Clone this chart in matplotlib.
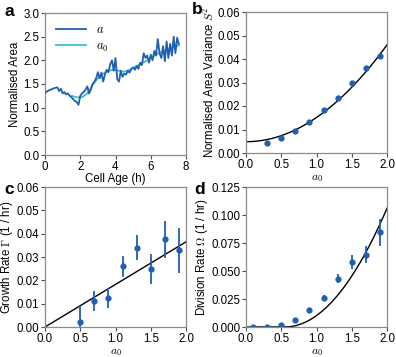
import numpy as np
import matplotlib
matplotlib.use("Agg")
import matplotlib.pyplot as plt

plt.rcParams['font.family'] = ['Liberation Sans', 'DejaVu Sans']
plt.rcParams['mathtext.fontset'] = 'cm'
plt.rcParams['font.size'] = 8.3

# ---- panel a data ----
age_a = [0.0, 0.1, 0.2, 0.3, 0.4, 0.5, 0.6, 0.7, 0.8, 0.9, 1.0, 1.1, 1.2, 1.3, 1.4, 1.5,
         1.6, 1.7, 1.8, 1.9, 2.0, 2.1, 2.2, 2.3, 2.4, 2.5, 2.6, 2.7, 2.8, 2.9, 3.0, 3.1,
         3.2, 3.3, 3.4, 3.5, 3.6, 3.7, 3.8, 3.9, 4.0, 4.1, 4.2, 4.3, 4.4, 4.5, 4.6, 4.7,
         4.8, 4.9, 5.0, 5.1, 5.2, 5.3, 5.4, 5.5, 5.6, 5.7, 5.8, 5.9, 6.0, 6.1, 6.2, 6.3,
         6.4, 6.5, 6.6, 6.7, 6.8, 6.9, 7.0, 7.1, 7.2, 7.3, 7.4, 7.5, 7.6]
area_a = [1.32, 1.34, 1.36, 1.38, 1.39, 1.41, 1.42, 1.43, 1.35, 1.40, 1.30, 1.33, 1.28, 1.30,
          1.25, 1.22, 1.18, 1.14, 1.12, 1.06, 1.25, 1.30, 1.33, 1.38, 1.45, 1.30, 1.38, 1.50,
          1.55, 1.62, 1.75, 1.62, 1.74, 1.55, 1.70, 1.80, 1.75, 1.92, 2.00, 1.78, 2.05, 1.60,
          1.55, 1.78, 1.65, 1.72, 1.70, 1.78, 1.74, 1.82, 1.85, 1.80, 1.88, 1.82, 1.95, 1.90,
          2.15, 2.05, 2.10, 1.95, 2.12, 2.00, 2.20, 2.10, 2.45, 2.15, 2.05, 2.30, 1.98, 2.40,
          2.05, 2.35, 2.10, 2.50, 2.15, 2.48, 2.33]
age_a0 = [1.5, 1.8, 2.1, 2.4, 2.7, 3.0, 3.3, 3.6, 3.9, 4.2, 4.5, 4.8, 5.1, 5.4, 5.7, 6.0,
          6.3, 6.6, 6.9, 7.2, 7.5]
area_a0 = [1.25, 1.22, 1.22, 1.30, 1.48, 1.62, 1.72, 1.78, 1.80, 1.78, 1.76, 1.80, 1.86,
           1.92, 1.98, 2.05, 2.12, 2.18, 2.22, 2.26, 2.30]

# ---- panel b data ----
a0_b = [0.3, 0.5, 0.7, 0.9, 1.1, 1.3, 1.5, 1.7, 1.9]
var_b = [0.0042, 0.0065, 0.0093, 0.0133, 0.0183, 0.0235, 0.0298, 0.0360, 0.0413]
fit_b_c0 = 0.0048
fit_b_c2 = 0.0103

# ---- panel c data ----
a0_c = [0.5, 0.7, 0.9, 1.1, 1.3, 1.5, 1.7, 1.9]
growth_c = [0.0020, 0.0112, 0.0123, 0.0260, 0.0340, 0.0250, 0.0376, 0.0328]
growth_err = [0.0070, 0.0044, 0.0043, 0.0045, 0.0053, 0.0065, 0.0080, 0.0098]
fit_c_slope = 0.01825

# ---- panel d data ----
a0_d = [0.1, 0.3, 0.5, 0.7, 0.9, 1.1, 1.3, 1.5, 1.7, 1.9]
div_d = [0.0, 0.0, 0.0015, 0.0062, 0.0148, 0.0258, 0.0430, 0.0580, 0.0645, 0.0845]
div_err = [0.0003, 0.0003, 0.0012, 0.0010, 0.0010, 0.0025, 0.0040, 0.0065, 0.0075, 0.0120]
fit_d_thresh = 0.55
fit_d_coef = 0.0504

BLUE = '#2160b0'
CYAN = '#3cc0d0'
W, H = 396, 357
fig = plt.figure(figsize=(W / 100, H / 100), dpi=100)

def add_ax(l, r, t, b):
    return fig.add_axes([l / W, 1 - b / H, (r - l) / W, (b - t) / H])

axa = add_ax(45, 186, 13, 155)
axb = add_ax(246, 387, 12, 153)
axc = add_ax(45, 186, 187, 327)
axd = add_ax(246, 387, 187, 327)

for ax in (axa, axb, axc, axd):
    for s in ax.spines.values():
        s.set_color('0.55')
        s.set_linewidth(0.9)
    ax.tick_params(direction='out', length=3, width=0.8, color='0.3', pad=1.0,
                   top=False, right=False, labelsize=8.3)

# a
axa.plot(age_a0, area_a0, color=CYAN, lw=1.3, label='$a_0$', zorder=2)
axa.plot(age_a, area_a, color=BLUE, lw=1.3, label='$a$', zorder=3)
h, l = axa.get_legend_handles_labels()
axa.legend(h[::-1], l[::-1], loc='upper left', frameon=False, fontsize=9,
           handlelength=2.4, borderaxespad=0.5, labelspacing=0.35)
axa.set_xlim(0, 8)
axa.set_ylim(0, 3)
axa.set_xticks([0, 2, 4, 6, 8])
axa.set_yticks([0, 0.5, 1.0, 1.5, 2.0, 2.5, 3.0])
axa.set_xlabel('Cell Age (h)', labelpad=0)
axa.set_ylabel('Normalised Area', labelpad=1.5)

# b
xb = np.linspace(0, 2, 200)
axb.plot(xb, fit_b_c0 + fit_b_c2 * xb ** 2, color='black', lw=1.0)
axb.plot(a0_b, var_b, 'o', color=BLUE, ms=3.5)
axb.set_xlim(0, 2)
axb.set_ylim(0, 0.06)
axb.set_xticks([0, 0.5, 1.0, 1.5, 2.0])
axb.set_yticks([0, 0.01, 0.02, 0.03, 0.04, 0.05, 0.06])
axb.set_yticklabels(['0.00', '0.01', '0.02', '0.03', '0.04', '0.05', '0.06'])
axb.set_xlabel('$a_0$', labelpad=1)
axb.set_ylabel('Normalised Area Variance $S^2$', labelpad=1)

# c
xc = np.linspace(0, 2, 50)
axc.plot(xc, fit_c_slope * xc, color='black', lw=1.0)
axc.errorbar(a0_c, growth_c, yerr=growth_err, fmt='o', color=BLUE, ms=3.5,
             elinewidth=1.3, capsize=0)
axc.set_xlim(0, 2)
axc.set_ylim(0, 0.06)
axc.set_xticks([0, 0.5, 1.0, 1.5, 2.0])
axc.set_yticks([0, 0.01, 0.02, 0.03, 0.04, 0.05, 0.06])
axc.set_yticklabels(['0.00', '0.01', '0.02', '0.03', '0.04', '0.05', '0.06'])
axc.set_xlabel('$a_0$', labelpad=1)
axc.set_ylabel('Growth Rate $\\Gamma$ (1 / hr)', labelpad=1)

# d
xd = np.linspace(0, 2, 200)
axd.plot(xd, fit_d_coef * np.clip(xd - fit_d_thresh, 0, None) ** 2, color='black', lw=1.0)
axd.errorbar(a0_d, div_d, yerr=div_err, fmt='o', color=BLUE, ms=3.5,
             elinewidth=1.3, capsize=0)
axd.set_xlim(0, 2)
axd.set_ylim(0, 0.125)
axd.set_xticks([0, 0.5, 1.0, 1.5, 2.0])
axd.set_yticks([0, 0.025, 0.05, 0.075, 0.1, 0.125])
axd.set_yticklabels(['0.000', '0.025', '0.050', '0.075', '0.100', '0.125'])
axd.set_xlabel('$a_0$', labelpad=1)
axd.set_ylabel('Division Rate $\\Omega$ (1 / hr)', labelpad=1)

for ax in (axb, axc, axd):
    ax.set_xticklabels(['0.0', '0.5', '1.0', '1.5', '2.0'])

# panel letters
for txt, x, y in [('a', 9, 11), ('b', 197, 9), ('c', 9, 190), ('d', 200, 190)]:
    fig.text(x / W, 1 - y / H, txt, fontsize=12.5, fontweight='bold', ha='center', va='center')

fig.savefig('out.png', dpi=100)
